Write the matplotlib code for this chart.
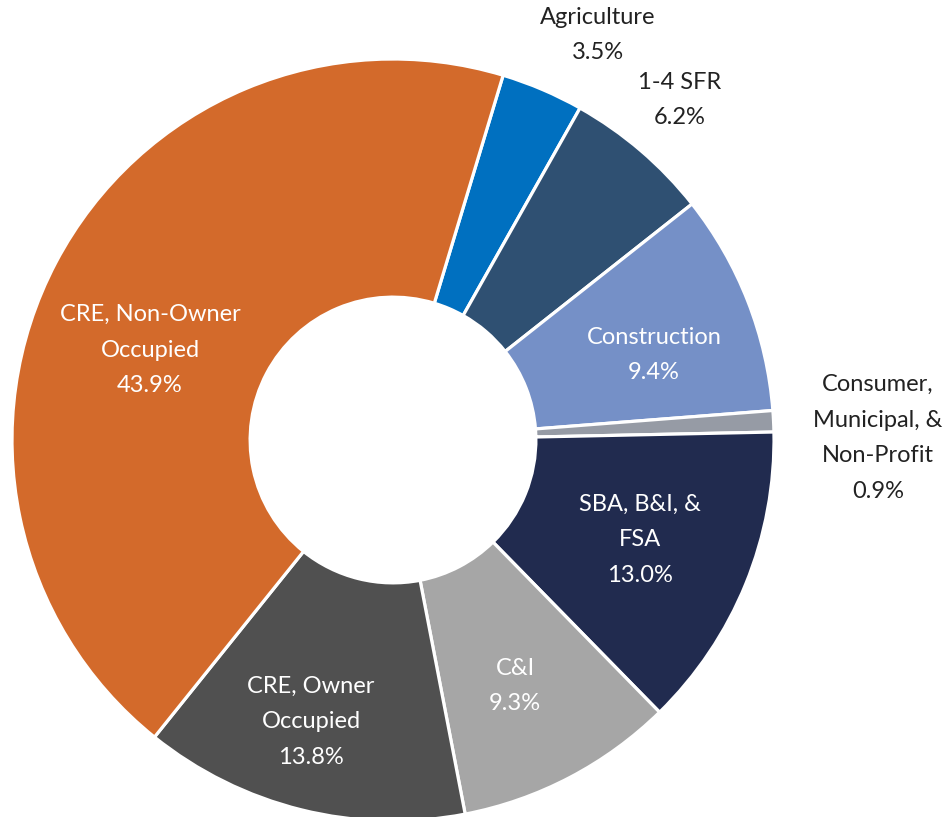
import matplotlib
matplotlib.use("Agg")
import matplotlib.pyplot as plt
import numpy as np

categories = ["Agriculture", "1-4 SFR", "Construction", "Consumer,\nMunicipal, &\nNon-Profit",
              "SBA, B&I, &\nFSA", "C&I", "CRE, Owner\nOccupied", "CRE, Non-Owner\nOccupied"]
values = [3.5, 6.2, 9.4, 0.9, 13.0, 9.3, 13.8, 43.9]
colors = ["#0070C0", "#2F5072", "#7590C7", "#969BA5", "#212B4F", "#A6A6A6", "#505050", "#D36A2B"]
text_colors = ["#222222", "#222222", "white", "#222222", "white", "white", "white", "white"]

# label centers in pixel coords (x from left, y from top) - layout only
label_pos = [(598, 35), (680, 100), (654, 355), (878, 438), (640, 540), (515, 686), (311, 722), (150, 350)]

W, H = 948, 817
fig = plt.figure(figsize=(W / 100, H / 100), dpi=100)
ax = fig.add_axes([0, 0, 1, 1])

cx, cy, R = 393, H - 440, 381
ax.pie(values, colors=colors, startangle=73.2, counterclock=False,
       center=(cx, cy), radius=R,
       wedgeprops=dict(width=R * 0.625, edgecolor="white", linewidth=2.3))
ax.set_xlim(0, W)
ax.set_ylim(0, H)
ax.set_aspect("equal")
ax.axis("off")

for cat, v, tc, (px, py) in zip(categories, values, text_colors, label_pos):
    ax.text(px, H - py, f"{cat}\n{v:.1f}%", ha="center", va="center", color=tc,
            fontsize=17, family=["Lato", "DejaVu Sans"], linespacing=1.85)

fig.savefig("out.png", dpi=100)
